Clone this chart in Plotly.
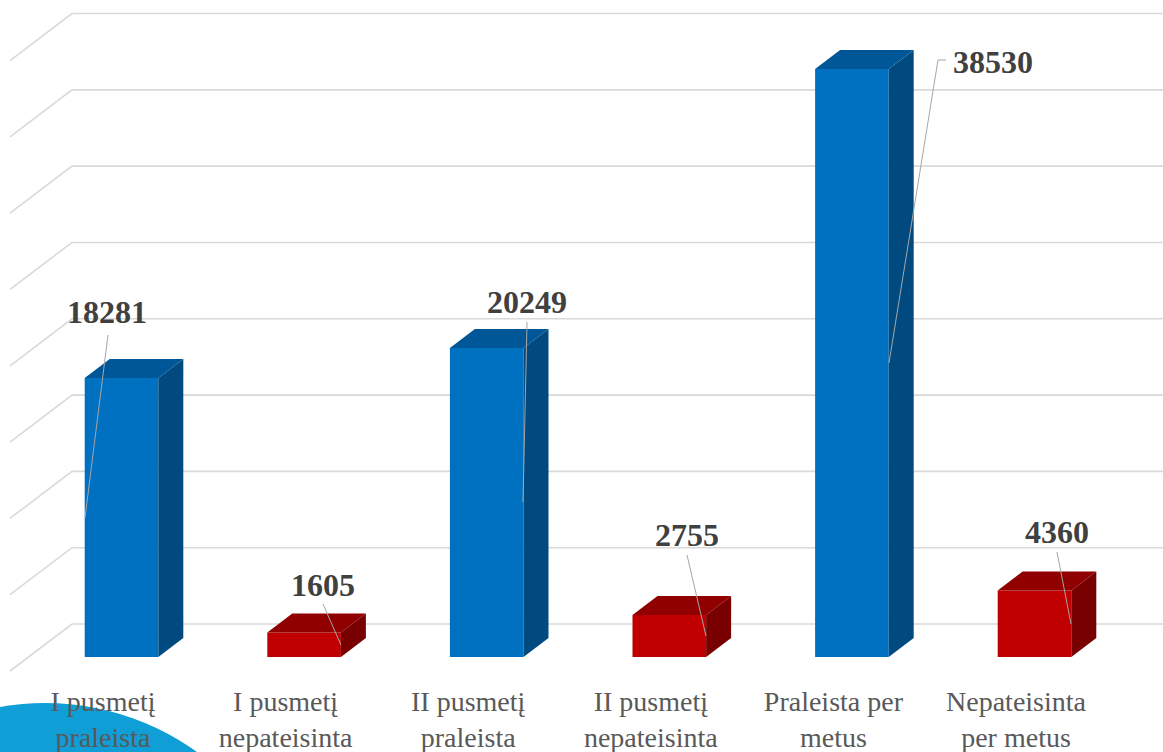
import plotly.graph_objects as go

# ---- data ----
categories = ["I pusmetį<br>praleista", "I pusmetį<br>nepateisinta", "II pusmetį<br>praleista",
              "II pusmetį<br>nepateisinta", "Praleista per<br>metus", "Nepateisinta<br>per metus"]
values = [18281, 1605, 20249, 2755, 38530, 4360]
grid_values = [0, 5000, 10000, 15000, 20000, 25000, 30000, 35000, 40000]
face_colors = ["#0070C0", "#C00000", "#0070C0", "#C00000", "#0070C0", "#C00000"]
top_colors = ["#005797", "#900000", "#005797", "#900000", "#005797", "#900000"]
side_colors = ["#004A80", "#780000", "#004A80", "#780000", "#004A80", "#780000"]
label_xy = [(107, 312), (323, 585), (527, 302), (687, 535), (993, 62), (1057, 532)]
leaders = [[(85, 518), (108, 335)], [(341, 645), (323, 604)], [(523, 502), (527, 322)],
           [(706, 636), (687, 555)], [(889, 363), (938, 60), (946, 60)], [(1071, 624), (1057, 552)]]

# ---- geometry ----
W, H = 1163, 752
BASE = 657.0
PX_PER_UNIT = 588 / 38530
STEP = 182.6
X0 = 121.5
BAR_W = 73.6 / STEP
DX = 25 / STEP
DY = 19 / PX_PER_UNIT
WALL_X = (72 - X0) / STEP
WALL_DY = 33 / PX_PER_UNIT
SIDE_DX = 62 / STEP
SIDE_DY = 47 / PX_PER_UNIT
TICK_SHIFT = -18.5 / STEP


def dx(px):
    return (px - X0) / STEP


def dy(py):
    return (BASE - py) / PX_PER_UNIT


fig = go.Figure()

# decorative circle
CX, CY, R = 45, 963, 260
fig.add_shape(type="circle", xref="x", yref="y", layer="below", line_width=0, fillcolor="#0F9ED5",
              x0=dx(CX - R), x1=dx(CX + R), y0=dy(CY + R), y1=dy(CY - R))

# walls
for v in grid_values:
    y = v + WALL_DY
    fig.add_shape(type="path", xref="x", yref="y", layer="below", line=dict(color="#D9D9D9", width=1.6),
                  path=f"M {WALL_X - SIDE_DX} {y - SIDE_DY} L {WALL_X} {y} L {dx(W)} {y}")

# front faces
fig.add_trace(go.Bar(x=list(range(len(values))), y=values, width=BAR_W, marker=dict(color=face_colors, line_width=0),
                     showlegend=False, hoverinfo="skip"))

# side and top faces
for i, v in enumerate(values):
    l, r = i - BAR_W / 2, i + BAR_W / 2
    fig.add_trace(go.Scatter(x=[r, r + DX, r + DX, r, r], y=[0, DY, v + DY, v, 0], mode="lines",
                             fill="toself", fillcolor=side_colors[i], line=dict(width=0),
                             hoverinfo="skip", showlegend=False))
    fig.add_trace(go.Scatter(x=[l, l + DX, r + DX, r, l], y=[v, v + DY, v + DY, v, v], mode="lines",
                             fill="toself", fillcolor=top_colors[i], line=dict(width=0),
                             hoverinfo="skip", showlegend=False))

# leaders
for pts in leaders:
    fig.add_trace(go.Scatter(x=[dx(p[0]) for p in pts], y=[dy(p[1]) for p in pts], mode="lines",
                             line=dict(color="#A6A6A6", width=1), hoverinfo="skip", showlegend=False))

# value labels
for v, (px, py) in zip(values, label_xy):
    fig.add_annotation(x=dx(px), y=dy(py), text=f"<b>{v}</b>", showarrow=False, xanchor="center", yanchor="middle",
                       font=dict(family="Liberation Serif", size=32, color="#404040"))

fig.update_layout(
    width=W, height=H, autosize=False, margin=dict(l=0, r=0, t=0, b=0, pad=0, autoexpand=False),
    paper_bgcolor="white", plot_bgcolor="rgba(0,0,0,0)", showlegend=False, barmode="overlay",
    font=dict(family="Liberation Serif"),
    xaxis=dict(range=[dx(0), dx(W)], tickmode="array", tickvals=[i + TICK_SHIFT for i in range(len(categories))],
               ticktext=categories, showgrid=False, zeroline=False, showline=False, ticks="", automargin=False,
               ticklabelposition="inside", ticklabelstandoff=-4,
               tickfont=dict(family="Liberation Serif", size=28, color="#595959"), tickangle=0),
    yaxis=dict(range=[dy(H), dy(0)], showgrid=False, zeroline=False, showline=False, showticklabels=False, ticks="",
               automargin=False),
)

fig.write_html("out.html", config={"displayModeBar": False},
               post_script="document.body.style.margin='0';document.body.style.overflow='hidden';")
